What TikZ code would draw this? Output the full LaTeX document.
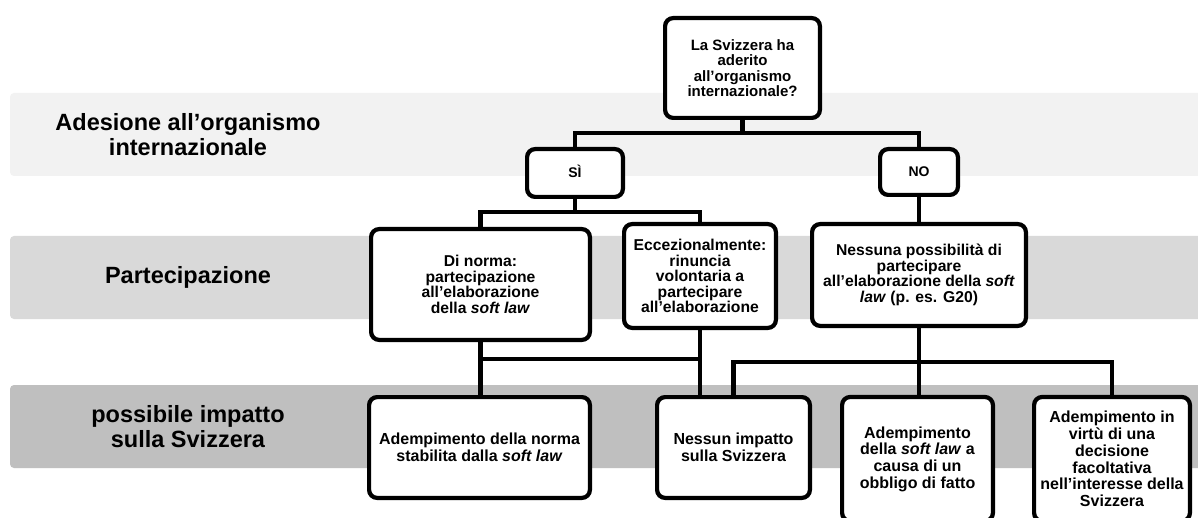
\documentclass[tikz,border=0pt]{standalone}
\usepackage{fontspec}
\setmainfont{Liberation Sans}
\definecolor{bandA}{HTML}{F2F2F2}
\definecolor{bandB}{HTML}{D9D9D9}
\definecolor{bandC}{HTML}{BFBFBF}
\begin{document}
\begin{tikzpicture}[x=1pt,y=-1pt,
  box/.style={draw=black, line width=4.2pt, fill=white, rounded corners=8pt,
    align=center, inner sep=0pt, font=\bfseries\fontsize{15.7}{15.6}\selectfont},
  smallbox/.style={box, text height=10pt, text depth=0pt, font=\bfseries\fontsize{14}{15}\selectfont},
  lowbox/.style={box, font=\bfseries\fontsize{16}{16.7}\selectfont},
  conn/.style={line width=4.2pt},
  bandbox/.style={rounded corners=4pt},
  lab/.style={align=center, inner sep=0pt, font=\bfseries\fontsize{23.5}{25}\selectfont}]
\clip (0,0) rectangle (1198,518);
\fill[white] (0,0) rectangle (1198,518);
% bands
\fill[bandbox, bandA] (10,93) rectangle (1240,176);
\fill[bandbox, bandB] (10,236) rectangle (1240,319);
\fill[bandbox, bandC] (10,385) rectangle (1240,468);
\node[lab] (l1) at (188,134.5) {Adesione all’organismo\\internazionale};
\node[lab] (l2) at (188,277.5) {Partecipazione};
\node[lab] (l3) at (188,426.5) {possibile impatto\\sulla Svizzera};
% boxes
\node[box, font=\bfseries\fontsize{15}{15.4}\selectfont, minimum width=154.8pt, minimum height=99.8pt] (Q) at (742.5,68)
  {La Svizzera ha\\aderito\\all’organismo\\internazionale?};
\node[smallbox, minimum width=95.8pt, minimum height=47.8pt] (SI) at (575,173) {SÌ};
\node[smallbox, minimum width=77.8pt, minimum height=45.8pt] (NO) at (919,172) {NO};
\node[box, minimum width=218.8pt, minimum height=110.8pt] (DN) at (480.5,284.5)
  {Di norma:\\partecipazione\\all’elaborazione\\della \textit{soft law}};
\node[box, minimum width=151.8pt, minimum height=103.8pt] (EC) at (700,276)
  {Eccezionalmente:\\rinuncia\\volontaria a\\partecipare\\all’elaborazione};
\node[box, minimum width=213.8pt, minimum height=101.8pt] (NE) at (919,275)
  {Nessuna possibilità di\\partecipare\\all’elaborazione della \textit{soft}\\\textit{law} (p. es. G20)};
\node[lowbox, minimum width=220.8pt, minimum height=100.8pt] (AN) at (479.5,447.5)
  {Adempimento della norma\\stabilita dalla \textit{soft law}};
\node[lowbox, minimum width=152.8pt, minimum height=100.8pt] (NI) at (733.5,447.5)
  {Nessun impatto\\sulla Svizzera};
\node[lowbox, minimum width=150.8pt, minimum height=124pt] (AS) at (917.5,459)
  {Adempimento\\della \textit{soft law} a\\causa di un\\obbligo di fatto};
\node[lowbox, minimum width=155.8pt, minimum height=124pt] (AV) at (1112,459)
  {Adempimento in\\virtù di una\\decisione\\facoltativa\\nell’interesse della\\Svizzera};
% connectors
\coordinate (j1) at (742.5,133);
\coordinate (j2) at (575,212);
\coordinate (y3) at (0,359);
\coordinate (j4) at (918,362);
\draw[conn] (Q.south) -- (j1);
\draw[conn] (SI.north) |- (j1) -| (NO.north);
\draw[conn] (SI.south) -- (j2);
\draw[conn] (DN.north) |- (j2) -| (EC.north);
\draw[conn] (NO.south) -- (NE.north);
\draw[conn] (DN.south) -- (DN.south |- AN.north);
\draw[conn] (DN.south |- y3) -- (EC.south |- y3);
\draw[conn] (EC.south) -- (EC.south |- NI.north);
\draw[conn] (NE.south) -- (NE.south |- AS.north);
\draw[conn] (NI.north) |- (j4) -| (AV.north);
\end{tikzpicture}
\end{document}
